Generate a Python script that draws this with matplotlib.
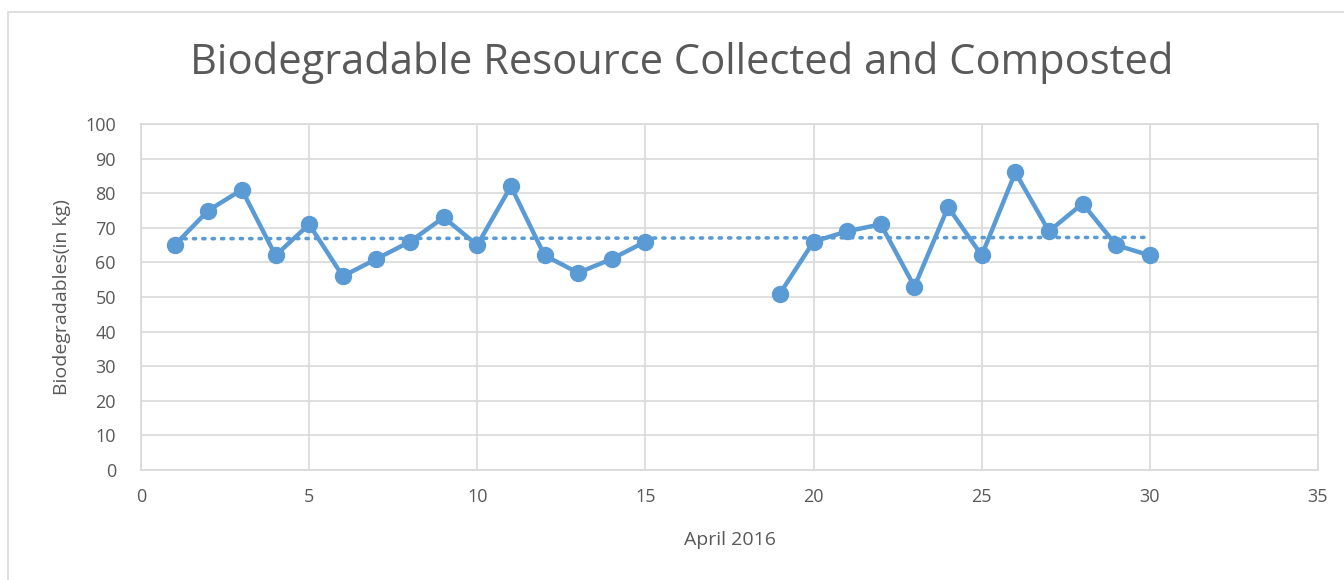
import numpy as np
import matplotlib.pyplot as plt
from matplotlib.patches import Rectangle

days = [1, 2, 3, 4, 5, 6, 7, 8, 9, 10, 11, 12, 13, 14, 15,
        19, 20, 21, 22, 23, 24, 25, 26, 27, 28, 29, 30]
kg = [65, 75, 81, 62, 71, 56, 61, 66, 73, 65, 82, 62, 57, 61, 66,
      51, 66, 69, 71, 53, 76, 62, 86, 69, 77, 65, 62]

blue = '#5b9bd5'
grid = '#d9d9d9'
txt = '#595959'

plt.rcParams['font.family'] = ['Open Sans', 'DejaVu Sans']

fig = plt.figure(figsize=(13.44, 5.8), dpi=100)
ax = fig.add_axes([141 / 1344, 1 - 470 / 580, (1318 - 141) / 1344, (470 - 124) / 580])

# outer chart frame, runs off the right and bottom edges
fig.patches.append(Rectangle((8 / 1344, -0.1), 1.2, 1 - 12 / 580 + 0.1,
                             transform=fig.transFigure, fill=False,
                             edgecolor=grid, linewidth=1.2))

# break in the line for the missing days 16-18
x = np.array(days, dtype=float)
y = np.array(kg, dtype=float)
gap = np.where(np.diff(x) > 1)[0] + 1
xs = np.insert(x, gap, np.nan)
ys = np.insert(y, gap, np.nan)
ax.plot(xs, ys, color=blue, linewidth=3.2, marker='o', markersize=11.5, zorder=3)

# linear trendline
m, c = np.polyfit(x, y, 1)
tx = np.array([days[0], days[-1]])
ax.plot(tx, m * tx + c, color=blue, linewidth=2.6, linestyle=(0, (0.6, 2.0)),
        dash_capstyle='round', zorder=2)

ax.set_xlim(0, 35)
ax.set_ylim(0, 100)
ax.set_xticks(range(0, 36, 5))
ax.set_yticks(range(0, 101, 10))
ax.grid(True, color=grid, linewidth=1.2)
ax.set_axisbelow(True)
for s in ax.spines.values():
    s.set_color(grid)
    s.set_linewidth(1.2)
ax.tick_params(length=0, labelsize=13, colors=txt)
ax.tick_params(axis='x', pad=13)
ax.tick_params(axis='y', pad=18)

ax.set_xlabel('April 2016', fontsize=14, color=txt, labelpad=18)
ax.set_ylabel('Biodegradables(in kg)', fontsize=14, color=txt, labelpad=10)
fig.text(0.507, 0.891, 'Biodegradable Resource Collected and Composted',
         ha='center', va='center', fontsize=30, color=txt)

fig.savefig('out.png', dpi=100)
